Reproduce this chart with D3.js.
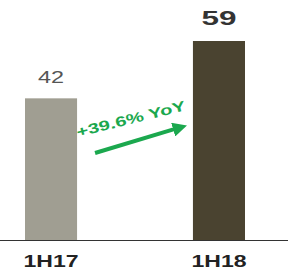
<!DOCTYPE html>
<html>
<head>
<meta charset="utf-8">
<script src="https://cdn.jsdelivr.net/npm/d3@7"></script>
<style>
  body { margin: 0; background: #fff; }
  text { font-family: "Liberation Sans", Arial, sans-serif; }
</style>
</head>
<body>
<div id="chart"></div>
<script>
(function() {

var periods = ["1H17", "1H18"];
var values = [42, 59];
var barColors = ["#a09e92", "#4a4330"];
var growthLabel = "+39.6% YoY";

var width = 300,
    height = 271,
    baseline = 240;

var svg = d3.select("#chart").append("svg")
    .attr("width", width)
    .attr("height", height);

var x = d3.scaleBand()
    .domain(periods)
    .range([25, 245])
    .paddingInner(0.69)
    .paddingOuter(0);

var y = d3.scaleLinear()
    .domain([0, 59])
    .range([baseline, 41]);

// bars
svg.selectAll(".bar")
    .data(values)
  .enter().append("rect")
    .attr("class", "bar")
    .attr("x", function(d, i) { return x(periods[i]); })
    .attr("y", function(d) { return y(d); })
    .attr("width", x.bandwidth())
    .attr("height", function(d) { return y(0) - y(d); })
    .style("fill", function(d, i) { return barColors[i]; });

// baseline
svg.append("line")
    .attr("x1", 0)
    .attr("x2", 288)
    .attr("y1", y(0) + 0.5)
    .attr("y2", y(0) + 0.5)
    .style("stroke", "#333")
    .style("stroke-width", 1.2);

// value labels (first plain grey, last bold)
svg.selectAll(".val")
    .data(values)
  .enter().append("text")
    .attr("class", "val")
    .attr("x", function(d, i) { return x(periods[i]) + x.bandwidth() / 2; })
    .attr("y", function(d, i) { return y(d) - (i === 0 ? 15 : 16); })
    .attr("text-anchor", "middle")
    .attr("font-size", function(d, i) { return i === 0 ? 16.5 : 19.5; })
    .attr("font-weight", function(d, i) { return i === 0 ? "normal" : "bold"; })
    .attr("textLength", function(d, i) { return i === 0 ? 26 : 35; })
    .attr("lengthAdjust", "spacingAndGlyphs")
    .style("fill", function(d, i) { return i === 0 ? "#555" : "#333"; })
    .text(function(d) { return d; });

// category labels
svg.selectAll(".cat")
    .data(periods)
  .enter().append("text")
    .attr("class", "cat")
    .attr("x", function(d) { return x(d) + x.bandwidth() / 2; })
    .attr("y", y(0) + 27)
    .attr("text-anchor", "middle")
    .attr("font-size", 17)
    .attr("font-weight", "bold")
    .attr("textLength", 55)
    .attr("lengthAdjust", "spacingAndGlyphs")
    .style("fill", "#222")
    .text(function(d) { return d; });

// growth arrow between the bars
var defs = svg.append("defs");
defs.append("marker")
    .attr("id", "head")
    .attr("viewBox", "0 0 10 10")
    .attr("refX", 2)
    .attr("refY", 5)
    .attr("markerWidth", 3.6)
    .attr("markerHeight", 3.6)
    .attr("orient", "auto")
  .append("path")
    .attr("d", "M0,0 L10,5 L0,10 Z")
    .style("fill", "#1ba84e");

var gap0 = x(periods[0]) + x.bandwidth(),
    gap1 = x(periods[1]);

svg.append("line")
    .attr("x1", gap0 + 18)
    .attr("y1", y(25.8))
    .attr("x2", gap1 - 17)
    .attr("y2", y(33))
    .style("stroke", "#1ba84e")
    .style("stroke-width", 4)
    .attr("marker-end", "url(#head)");

var angle = -14;
svg.append("text")
    .attr("transform", "translate(" + (gap0 + 55) + "," + y(34.5) + ") rotate(" + angle + ")")
    .attr("text-anchor", "middle")
    .attr("font-size", 14)
    .attr("font-weight", "bold")
    .attr("textLength", 112)
    .attr("lengthAdjust", "spacingAndGlyphs")
    .style("fill", "#1ba84e")
    .text(growthLabel);

})()
</script>
</body>
</html>
